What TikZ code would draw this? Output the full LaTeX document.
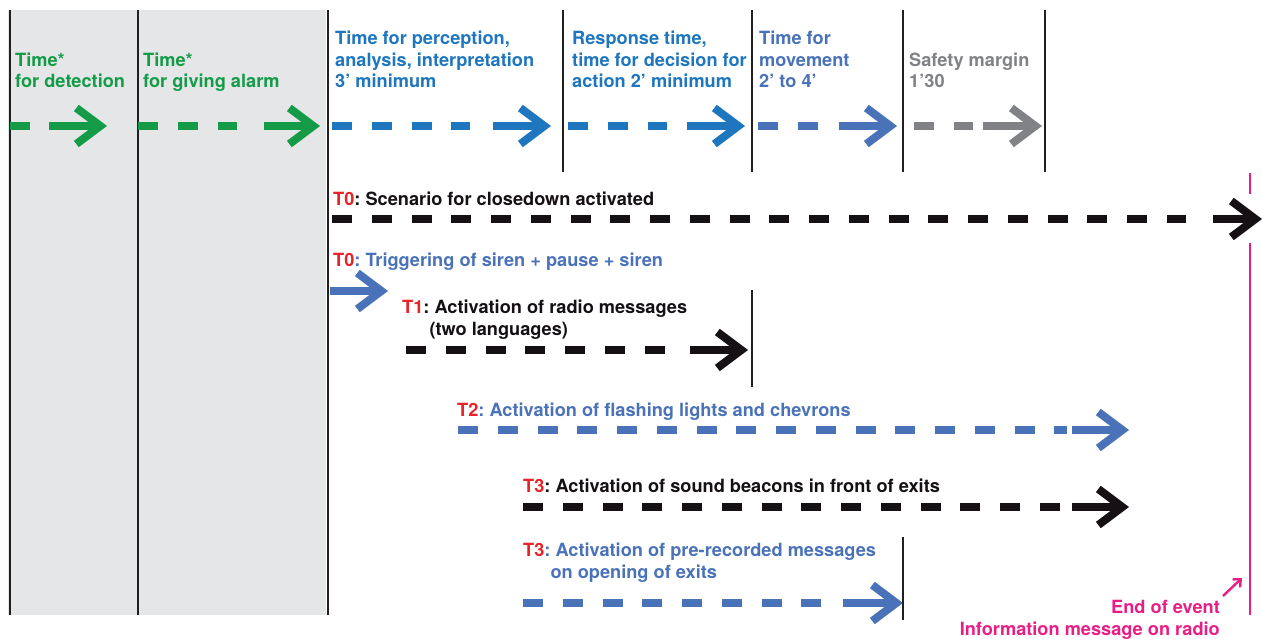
\documentclass[tikz,border=0pt]{standalone}
\usepackage{fontspec}
\setmainfont{TeX Gyre Heros}
\usetikzlibrary{arrows.meta}

\definecolor{detgreen}{RGB}{20,155,72}
\definecolor{percblue}{RGB}{30,118,190}
\definecolor{moveblue}{RGB}{74,114,185}
\definecolor{margray}{RGB}{128,130,134}
\definecolor{evblack}{RGB}{20,16,20}
\definecolor{tred}{RGB}{232,36,40}
\definecolor{endpink}{RGB}{232,30,135}
\definecolor{phasegray}{RGB}{229,230,231}
\definecolor{rulegray}{RGB}{35,31,32}

\begin{document}
\frenchspacing
\begin{tikzpicture}[x=1pt,y=-1pt,
    every node/.style={font=\fontsize{18.2}{21.5}\selectfont\bfseries, inner sep=0pt, align=left},
    dashes/.style={line width=8pt, dash pattern=on 20pt off 19.75pt},
    shaft/.style={line width=8pt, -{Straight Barb[length=24pt,width=36pt,sharp]}},
    divider/.style={line width=1.7pt, rulegray}]
    \useasboundingbox (0,0) rectangle (1262,639);

    % Grey zone for detection and alarm
    \fill[phasegray] (8,10) rectangle (326,615);
    \foreach \x in {10,138,328}
        \draw[divider] (\x,10) -- (\x,615);
    \foreach \x in {563,752,903,1045}
        \draw[divider] (\x,10) -- (\x,172);

    % Phase labels (anchored on their last line)
    \node[anchor=base west, text=detgreen] (tdet) at (15,88) {Time*\\for detection};
    \node[anchor=base west, text=detgreen] (talarm) at (143,88) {Time*\\for giving alarm};
    \node[anchor=base west, text=percblue] (tperc) at (335,88) {Time for perception,\\analysis, interpretation\\3’ minimum};
    \node[anchor=base west, text=percblue] (tresp) at (572,88) {Response time,\\time for decision for\\action 2’ minimum};
    \node[anchor=base west, text=moveblue] (tmove) at (759,88) {Time for\\movement\\2’ to 4’};
    \node[anchor=base west, text=margray] (tsafe) at (909,88) {Safety margin\\1’30};

    % Phase arrows
    \foreach \col/\xa/\xb/\xc/\xd in {detgreen/10/30/49/107, detgreen/138/237/264/320,
        percblue/332/470/493/551, percblue/568/667/687/745,
        moveblue/758/818/839/897, margray/914/973/983/1042}
    {
        \draw[dashes,\col] (\xa,126) -- (\xb,126);
        \draw[shaft,\col] (\xc,126) -- (\xd,126);
    }

    % End of event
    \draw[endpink, line width=1.3pt] (1250,173) -- (1250,194);
    \draw[endpink, line width=1.3pt] (1250,243) -- (1250,615);
    \node[anchor=base east, align=right, text=endpink] (tend) at (1220,635) {End of event\\Information message on radio};
    \draw[endpink, line width=2.4pt, -{Straight Barb[length=6pt,width=11pt,sharp]}] (1223,596) -- (1242,578);

    % T0: closedown scenario
    \node[anchor=base west, text=evblack] (tclose) at (333,206) {\textcolor{tred}{T0}: Scenario for closedown activated};
    \draw[dashes,evblack] (332,219) -- (1186,219);
    \draw[shaft,evblack] (1213,219) -- (1262,219);

    % T0: siren
    \node[anchor=base west, text=moveblue] (tsiren) at (333,267) {\textcolor{tred}{T0}: Triggering of siren + pause + siren};
    \draw[shaft,moveblue] (330,291) -- (388,291);

    % T1: radio messages
    \node[anchor=base west, text=evblack] (tradio) at (402,335) {\textcolor{tred}{T1}: Activation of radio messages\\\phantom{T1:}(two languages)};
    \draw[dashes,evblack] (406,350) -- (665,350);
    \draw[shaft,evblack] (690,350) -- (748,350);
    \draw[divider] (752,290) -- (752,387);

    % T2: flashing lights
    \node[anchor=base west, text=moveblue] (tlights) at (457,416) {\textcolor{tred}{T2}: Activation of flashing lights and chevrons};
    \draw[dashes,moveblue] (458,430) -- (1067,430);
    \draw[shaft,moveblue] (1072,430) -- (1129,430);

    % T3: sound beacons
    \node[anchor=base west, text=evblack] (tbeacon) at (523,492) {\textcolor{tred}{T3}: Activation of sound beacons in front of exits};
    \draw[dashes,evblack] (523,507) -- (1060,507);
    \draw[shaft,evblack] (1072,507) -- (1129,507);

    % T3: pre-recorded messages
    \node[anchor=base west, text=moveblue] (trecord) at (523,578) {\textcolor{tred}{T3}: Activation of pre-recorded messages\\\phantom{T3:}on opening of exits};
    \draw[dashes,moveblue] (523,603) -- (823,603);
    \draw[shaft,moveblue] (843,603) -- (903,603);
    \draw[divider] (903,537) -- (903,620);
\end{tikzpicture}
\end{document}
